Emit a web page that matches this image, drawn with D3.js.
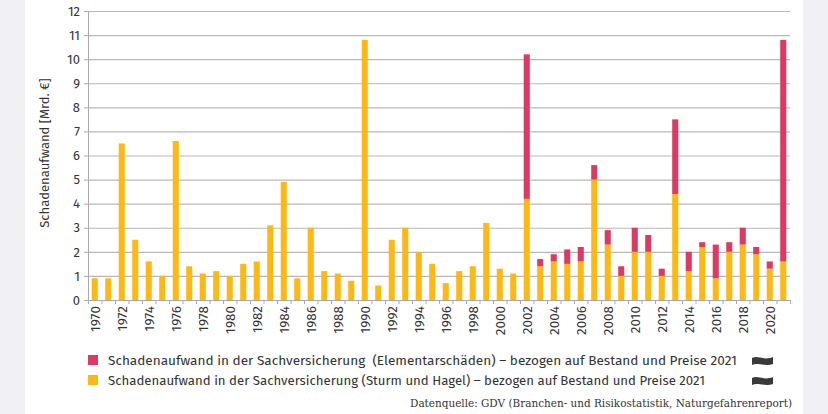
<!DOCTYPE html>
<html><head><meta charset="utf-8">
<script src="https://cdn.jsdelivr.net/npm/d3@7"></script>
<style>
html,body{margin:0;padding:0;background:#f1f0f4;}
svg{display:block;}
text{white-space:pre;}
</style></head>
<body>
<svg id="c" width="828" height="414"></svg>
<script>
const years = d3.range(1970, 2022);
const sturmHagel = [0.9,0.9,6.5,2.5,1.6,1.0,6.6,1.4,1.1,1.2,1.0,1.5,1.6,3.1,4.9,0.9,3.0,1.2,1.1,0.8,10.8,0.6,2.5,3.0,2.0,1.5,0.7,1.2,1.4,3.2,1.3,1.1,4.2,1.4,1.6,1.5,1.6,5.0,2.3,1.0,2.0,2.0,1.0,4.4,1.2,2.2,0.9,2.0,2.3,1.9,1.3,1.6];
const elementar = [0,0,0,0,0,0,0,0,0,0,0,0,0,0,0,0,0,0,0,0,0,0,0,0,0,0,0,0,0,0,0,0,6.0,0.3,0.3,0.6,0.6,0.6,0.6,0.4,1.0,0.7,0.3,3.1,0.8,0.2,1.4,0.4,0.7,0.3,0.3,9.2];
const yTicks = d3.range(0, 13);
const seriesNames = [
  "Schadenaufwand in der Sachversicherung  (Elementarschäden) – bezogen auf Bestand und Preise 2021",
  "Schadenaufwand in der Sachversicherung (Sturm und Hagel) – bezogen auf Bestand und Preise 2021"
];
const sourceText = "Datenquelle: GDV (Branchen- und Risikostatistik, Naturgefahrenreport)";
const yLabel = "Schadenaufwand [Mrd. €]";

const colors = {sturm:"#fdb813", elem:"#dc3a63"};
const font = "'Fira Sans','Open Sans','Noto Sans',sans-serif";

const svg = d3.select("#c");
svg.append("rect").attr("x",25).attr("y",0).attr("width",778).attr("height",414).attr("fill","#ffffff");

const L=88, R=790, T=11, B=300;
const x = d3.scaleBand().domain(years).range([L,R]).paddingInner(0.55).paddingOuter(0.275);
const y = d3.scaleLinear().domain([0,12]).range([B,T]);

// grid
svg.append("g").selectAll("line").data(yTicks.filter(d=>d>0)).join("line")
  .attr("x1",L).attr("x2",R).attr("y1",d=>y(d)+0.5).attr("y2",d=>y(d)+0.5)
  .attr("stroke","#b9b9bb").attr("stroke-width",1.2);

// y axis
const ya = svg.append("g").attr("transform",`translate(${L},0)`)
  .call(d3.axisLeft(y).tickValues(yTicks).tickSize(4).tickPadding(4));
ya.select(".domain").attr("stroke","#aaaaaa");
ya.selectAll(".tick line").attr("stroke","#aaaaaa");
ya.selectAll("text").attr("font-family",font).attr("font-size",13).attr("fill","#333");

// stacked data
const data = years.map((yr,i)=>({year:yr, sturm:sturmHagel[i], elem:elementar[i]}));
const stack = d3.stack().keys(["sturm","elem"])(data);
svg.append("g").selectAll("g").data(stack).join("g")
  .attr("fill",d=>colors[d.key])
  .selectAll("rect").data(d=>d.filter(p=>p[1]-p[0]>0)).join("rect")
  .attr("x",d=>x(d.data.year)).attr("width",x.bandwidth())
  .attr("y",d=>y(d[1])).attr("height",d=>y(d[0])-y(d[1]));

// x axis
const xa = svg.append("g").attr("transform",`translate(0,${B})`);
xa.append("line").attr("x1",L).attr("x2",R).attr("y1",0.5).attr("y2",0.5).attr("stroke","#aaaaaa");
const step = x.step();
xa.selectAll("line.t").data(d3.range(0,years.length+1)).join("line").attr("class","t")
  .attr("x1",i=>L+i*step+0.5).attr("x2",i=>L+i*step+0.5).attr("y1",0).attr("y2",4)
  .attr("stroke","#aaaaaa");
xa.selectAll("text").data(years.filter(d=>d%2===0)).join("text")
  .attr("transform",d=>`translate(${x(d)+x.bandwidth()/2+4.8},6) rotate(-90)`)
  .attr("text-anchor","end").attr("font-family",font).attr("font-size",13.5).attr("fill","#333")
  .text(d=>d);

// y label
svg.append("text").attr("transform",`translate(49,153) rotate(-90)`)
  .attr("text-anchor","middle").attr("font-family",font).attr("font-size",13).attr("fill","#333")
  .text(yLabel);

// legend
const leg = [{c:colors.elem, t:seriesNames[0], y:355},{c:colors.sturm, t:seriesNames[1], y:375}];
const lg = svg.append("g");
leg.forEach((d,i)=>{
  lg.append("rect").attr("x",88).attr("y",d.y).attr("width",10).attr("height",10).attr("fill",d.c);
  lg.append("text").attr("x",108).attr("y",d.y+10).attr("font-family",font).attr("font-size",13.5)
    .attr("fill","#333").attr("textLength", i===0?629:597).attr("lengthAdjust","spacingAndGlyphs").text(d.t);
  const x0=752, y0=d.y+2, w=21, h=7;
  const p = d3.path();
  p.moveTo(x0,y0+1);
  p.bezierCurveTo(x0+6,y0-2,x0+12,y0+4,x0+w,y0);
  p.lineTo(x0+w,y0+h);
  p.bezierCurveTo(x0+12,y0+h+3,x0+6,y0+h-2,x0,y0+h+1);
  p.closePath();
  lg.append("path").attr("d",p.toString()).attr("fill","#3a3a3a");
});

svg.append("text").attr("x",792).attr("y",407).attr("text-anchor","end")
  .attr("font-family","'DejaVu Serif','Liberation Serif',serif").attr("font-size",11).attr("fill","#333")
  .attr("textLength",382).attr("lengthAdjust","spacingAndGlyphs").text(sourceText);
</script>
</body></html>
